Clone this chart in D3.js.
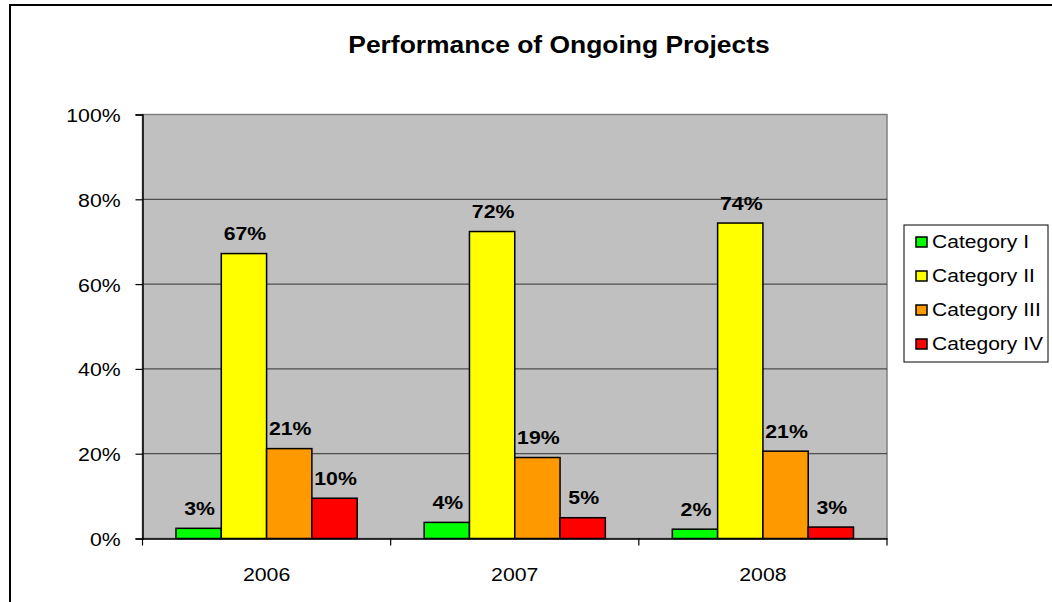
<!DOCTYPE html>
<html>
<head>
<meta charset="utf-8">
<script src="https://cdn.jsdelivr.net/npm/d3@7"></script>
<style>
  html, body { margin: 0; padding: 0; background: #fff; }
  svg { display: block; font-family: "Liberation Sans", Arial, sans-serif; }
</style>
</head>
<body>
<svg id="chart" width="1052" height="602"></svg>
<script>
// data
const years = ["2006", "2007", "2008"];
const categories = ["Category I", "Category II", "Category III", "Category IV"];
const colors = ["#00ff00", "#ffff00", "#ff9900", "#ff0000"];
const catI = [0.024, 0.038, 0.022];
const catII = [0.672, 0.724, 0.744];
const catIII = [0.212, 0.191, 0.206];
const catIV = [0.095, 0.049, 0.027];
const yTicks = [0, 0.2, 0.4, 0.6, 0.8, 1];
const labelsI = ["3%", "4%", "2%"];
const labelsII = ["67%", "72%", "74%"];
const labelsIII = ["21%", "19%", "21%"];
const labelsIV = ["10%", "5%", "3%"];

const series = [catI, catII, catIII, catIV];
const seriesLabels = [labelsI, labelsII, labelsIII, labelsIV];

const sx = 1.15; // the reference text is a bit wide
const svg = d3.select("#chart");
const margin = { top: 114.5, right: 165, bottom: 63.5, left: 142.5 };
const width = 1052, height = 602;

// stretch a text horizontally around its own anchor point
function stretch(sel) {
  sel.each(function () {
    const t = d3.select(this);
    const x = +t.attr("x") || 0;
    const y = +t.attr("y") || 0;
    t.attr("transform", `translate(${x},${y}) scale(${sx},1) translate(${-x},${-y})`);
  });
}

// outer chart border (cropped at right and bottom)
svg.append("rect")
  .attr("x", 10).attr("y", 5)
  .attr("width", 1100).attr("height", 700)
  .attr("fill", "none").attr("stroke", "#000").attr("stroke-width", 2);

const x0 = d3.scaleBand()
  .domain(years)
  .range([margin.left, width - margin.right])
  .paddingInner(0.27)
  .paddingOuter(0.135);

const x1 = d3.scaleBand()
  .domain(d3.range(categories.length))
  .range([0, x0.bandwidth()]);

const y = d3.scaleLinear()
  .domain([0, 1])
  .range([height - margin.bottom, margin.top]);

// plot area
svg.append("rect")
  .attr("x", margin.left).attr("y", margin.top)
  .attr("width", width - margin.right - margin.left)
  .attr("height", y(0) - y(1))
  .attr("fill", "#c0c0c0")
  .attr("stroke", "#808080")
  .attr("stroke-width", 1.5);

// gridlines
svg.append("g")
  .selectAll("line")
  .data(yTicks.slice(1, -1))
  .join("line")
  .attr("x1", margin.left).attr("x2", width - margin.right)
  .attr("y1", (d) => y(d)).attr("y2", (d) => y(d))
  .attr("stroke", "#333").attr("stroke-width", 1);

// bars
const groups = svg.append("g")
  .selectAll("g")
  .data(years)
  .join("g")
  .attr("transform", (d) => `translate(${x0(d)},0)`);

const cells = (d, i) => series.map((s, k) => ({ k, v: s[i], label: seriesLabels[k][i] }));

groups.selectAll("rect")
  .data(cells)
  .join("rect")
  .attr("x", (d) => x1(d.k))
  .attr("y", (d) => y(d.v))
  .attr("width", x1.bandwidth())
  .attr("height", (d) => y(0) - y(d.v))
  .attr("fill", (d) => colors[d.k])
  .attr("stroke", "#000")
  .attr("stroke-width", 1.5);

groups.selectAll("text")
  .data(cells)
  .join("text")
  .attr("x", (d) => x1(d.k) + x1.bandwidth() / 2 + 1)
  .attr("y", (d) => y(d.v) - 13.5)
  .attr("text-anchor", "middle")
  .attr("font-size", 18.5)
  .attr("font-weight", "bold")
  .attr("fill", "#000")
  .text((d) => d.label)
  .call(stretch);

// axes
const yAxis = svg.append("g")
  .attr("transform", `translate(${margin.left},0)`)
  .call(d3.axisLeft(y).tickValues(yTicks).tickFormat(d3.format(".0%")).tickSize(7).tickPadding(12));

const xAxis = svg.append("g")
  .attr("transform", `translate(0,${y(0)})`)
  .call(d3.axisBottom(x0).tickSize(0).tickPadding(29));

// category separator ticks on the x axis
svg.append("g")
  .selectAll("line")
  .data(years.concat(["end"]))
  .join("line")
  .attr("x1", (d, i) => margin.left + i * x0.step())
  .attr("x2", (d, i) => margin.left + i * x0.step())
  .attr("y1", y(0)).attr("y2", y(0) + 7)
  .attr("stroke", "#000").attr("stroke-width", 1.2);

[yAxis, xAxis].forEach((ax) => {
  ax.select(".domain").attr("stroke", "#000").attr("stroke-width", 1.5);
  ax.selectAll(".tick line").attr("stroke", "#000").attr("stroke-width", 1.2);
  ax.selectAll("text")
    .attr("font-family", "Liberation Sans, Arial, sans-serif")
    .attr("font-size", 18.5)
    .attr("fill", "#000")
    .attr("transform", `scale(${sx},1)`);
});
yAxis.selectAll("text").attr("dy", "0.38em");
xAxis.selectAll("text").attr("x", 0);

// title
svg.append("text")
  .attr("x", 559).attr("y", 53)
  .attr("text-anchor", "middle")
  .attr("font-size", 23)
  .attr("font-weight", "bold")
  .text("Performance of Ongoing Projects")
  .call(stretch);

// legend
const legend = svg.append("g");
legend.append("rect")
  .attr("x", 904).attr("y", 225)
  .attr("width", 144).attr("height", 137)
  .attr("fill", "#fff").attr("stroke", "#000").attr("stroke-width", 1);

const items = legend.selectAll("g.item")
  .data(categories)
  .join("g")
  .attr("class", "item")
  .attr("transform", (d, i) => `translate(0,${248 + i * 34})`);

items.append("rect")
  .attr("x", 916).attr("y", -11)
  .attr("width", 11).attr("height", 10)
  .attr("fill", (d, i) => colors[i])
  .attr("stroke", "#000").attr("stroke-width", 1.5);

items.append("text")
  .attr("x", 932).attr("y", 0)
  .attr("font-size", 18.3)
  .text((d) => d)
  .call(stretch);
</script>
</body>
</html>
